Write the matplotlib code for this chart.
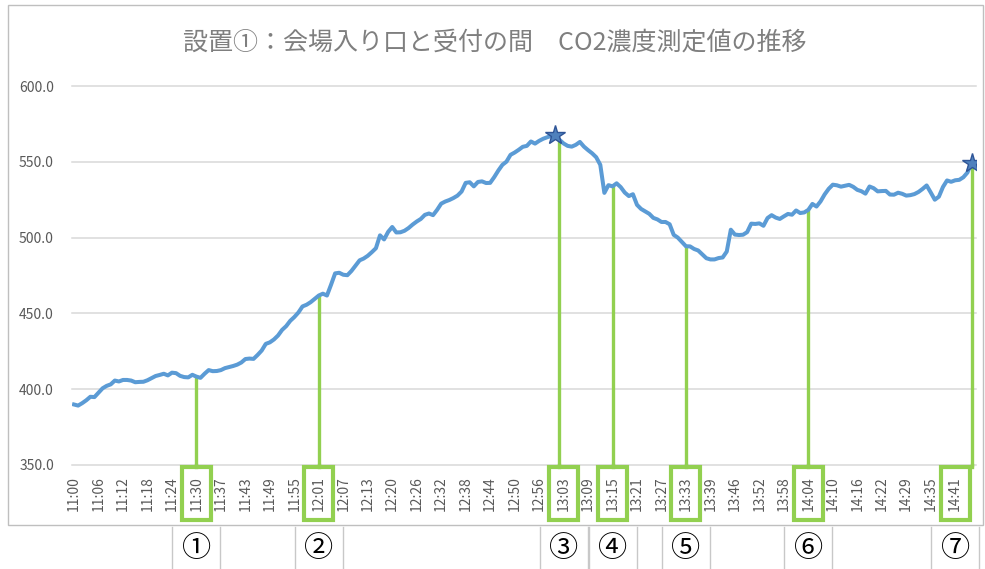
import matplotlib
matplotlib.use("Agg")
import matplotlib.pyplot as plt
from matplotlib.patches import Rectangle
from matplotlib.transforms import blended_transform_factory
from matplotlib.lines import Line2D

plt.rcParams['font.family'] = ['Noto Sans CJK JP', 'DejaVu Sans']

title = "設置①：会場入り口と受付の間　CO2濃度測定値の推移"

co2 = [
    389.9, 389.2, 390.8, 392.7, 395.0, 394.8, 397.7, 400.6, 402.2, 403.2,
    405.7, 405.1, 406.1, 406.1, 405.7, 404.6, 404.8, 404.9, 405.9, 407.3,
    408.7, 409.4, 410.2, 409.1, 410.9, 410.6, 408.8, 408.0, 407.8, 409.5,
    408.3, 407.5, 410.2, 412.6, 411.9, 412.0, 412.6, 413.9, 414.6, 415.3,
    416.2, 417.6, 419.9, 420.2, 420.0, 422.6, 425.5, 429.9, 430.9, 432.8,
    435.4, 439.1, 441.6, 445.1, 447.6, 450.6, 454.6, 455.7, 457.4, 459.6,
    461.8, 463.0, 461.8, 468.9, 476.4, 476.8, 475.5, 475.2, 478.0, 481.5,
    485.0, 486.2, 488.0, 490.4, 493.0, 501.5, 498.8, 503.8, 507.0, 503.4,
    503.5, 504.5, 506.3, 508.6, 510.6, 512.3, 515.0, 515.9, 514.8, 518.3,
    522.4, 523.8, 524.8, 526.1, 527.7, 530.4, 536.1, 536.5, 533.8, 536.7,
    537.1, 536.0, 536.1, 539.9, 544.2, 548.0, 550.1, 554.6, 556.1, 557.9,
    559.9, 560.5, 563.4, 562.0, 563.8, 565.2, 566.2, 567.1, 568.0, 564.5,
    562.1, 560.5, 560.0, 561.2, 563.1, 560.0, 557.7, 555.6, 553.0, 548.0,
    529.5, 534.6, 533.8, 535.8, 533.3, 529.7, 527.4, 528.6, 521.6, 518.9,
    517.3, 515.7, 513.0, 512.0, 510.3, 510.3, 508.8, 501.8, 500.0, 497.1,
    494.3, 494.2, 492.5, 491.5, 489.0, 486.4, 485.6, 485.6, 486.5, 486.9,
    490.8, 505.2, 502.0, 501.7, 501.9, 503.6, 509.2, 509.0, 509.4, 507.8,
    512.9, 514.8, 513.2, 512.3, 514.0, 515.6, 515.1, 517.9, 516.2, 516.6,
    518.3, 522.2, 520.5, 523.9, 528.5, 532.2, 534.9, 534.5, 533.6, 534.2,
    534.8, 533.5, 531.5, 530.6, 529.0, 533.7, 532.6, 530.5, 530.7, 530.8,
    528.4, 528.3, 529.6, 528.9, 527.7, 528.0, 528.7, 530.1, 532.1, 534.4,
    529.8, 525.0, 527.0, 533.4, 537.7, 536.8, 537.8, 538.1, 539.8, 542.9,
    549.5,
]

tick_labels = [
    "11:00", "11:06", "11:12", "11:18", "11:24", "11:30", "11:37", "11:43",
    "11:49", "11:55", "12:01", "12:07", "12:13", "12:20", "12:26", "12:32",
    "12:38", "12:44", "12:50", "12:56", "13:03", "13:09", "13:15", "13:21",
    "13:27", "13:33", "13:39", "13:46", "13:52", "13:58", "14:04", "14:10",
    "14:16", "14:22", "14:29", "14:35", "14:41",
]
tick_step = 6
y_ticks = [350, 400, 450, 500, 550, 600]

# annotated points: index of green line, index of boxed tick label, label
mark_line_idx = [30, 60, 119, 132, 150, 180, 220]
mark_tick_idx = [30, 60, 120, 132, 150, 180, 216]
mark_names = ["①", "②", "③", "④", "⑤", "⑥", "⑦"]
star_idx = [118, 220]

W, H = 985, 569
fig = plt.figure(figsize=(W / 100, H / 100), dpi=100)
ax_l, ax_r, ax_t, ax_b = 72, 976, 86, 465
ax = fig.add_axes([ax_l / W, 1 - ax_b / H, (ax_r - ax_l) / W, (ax_b - ax_t) / H])

x = list(range(len(co2)))
ax.plot(x, co2, color="#5B9BD5", lw=2.9, zorder=4, solid_joinstyle="round")
ax.plot(star_idx, [co2[i] for i in star_idx], ls="none",
        marker="*", ms=15, mfc="#4F81BD", mec="#2F5597", mew=1.0, zorder=5)

ax.set_ylim(350, 600)
ax.set_xlim(-0.5, 221.1)
ax.set_yticks(y_ticks)
ax.set_yticklabels([f"{v:.1f}" for v in y_ticks])
tpos = [i * tick_step for i in range(len(tick_labels))]
ax.set_xticks(tpos)
ax.set_xticklabels(tick_labels, rotation=90)
ax.tick_params(axis="both", length=0, colors="#595959", labelsize=10)
ax.tick_params(axis="x", pad=8)
ax.tick_params(axis="y", pad=13)
for v in y_ticks:
    ax.axhline(v, color="#D9D9D9", lw=1.1, zorder=1, clip_on=False)
for s in ax.spines.values():
    s.set_visible(False)

green = "#92D050"
bt = blended_transform_factory(ax.transData, ax.transAxes)
px_per_idx = (ax_r - ax_l) / (221.1 + 0.5)
box_w = 29 / px_per_idx
box_top = -(467 - ax_b) / (ax_b - ax_t)
box_bot = -(520 - ax_b) / (ax_b - ax_t)
for li, ti in zip(mark_line_idx, mark_tick_idx):
    ax.plot([li, li], [co2[li] - 1.0, 350], color=green, lw=2.4, zorder=3,
            clip_on=False)
    ax.add_line(Line2D([li, li], [0, box_top], transform=bt, color=green,
                       lw=2.4, clip_on=False, zorder=3))
    ax.add_patch(Rectangle((ti - box_w / 2, box_bot), box_w, box_top - box_bot,
                           transform=bt, fill=False, ec=green, lw=3.0,
                           clip_on=False, zorder=6))

# chart frame
fig.add_artist(Rectangle((8 / W, 1 - 525 / H), (983 - 8) / W, (525 - 5) / H,
                         transform=fig.transFigure, fill=False, ec="#BFBFBF",
                         lw=1.0))
fig.text(495 / W, 1 - 43 / H, title, ha="center", va="center",
         fontsize=18, color="#7F7F7F")

# cells with circled numbers below the chart
bf = blended_transform_factory(ax.transData, fig.transFigure)
cell_half = 24 / px_per_idx
for ti, name in zip(mark_tick_idx, mark_names):
    for edge in (ti - cell_half, ti + cell_half):
        fig.add_artist(Line2D([edge, edge], [0, 1 - 527 / H], transform=bf,
                              color="#C8C8C8", lw=1.0))
    fig.text(ti, 1 - 549 / H, name, transform=bf, ha="center", va="center",
             fontsize=21, color="#000000")

fig.savefig("out.png", dpi=100)
